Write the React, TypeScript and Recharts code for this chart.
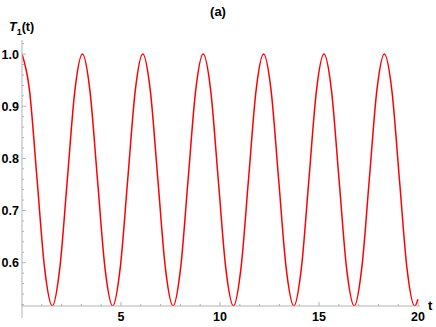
import { Line, LineChart, XAxis, YAxis } from "recharts";

// values (8 samples per oscillation)
const times = [
  0, 0.38, 0.76, 1.14, 1.53, 1.91, 2.29, 2.67, 3.05, 3.43, 3.81, 4.19, 4.58, 4.96, 5.34, 5.72,
  6.1, 6.48, 6.86, 7.24, 7.63, 8.01, 8.39, 8.77, 9.15, 9.53, 9.91, 10.29, 10.68, 11.06, 11.44,
  11.82, 12.2, 12.58, 12.96, 13.34, 13.73, 14.11, 14.49, 14.87, 15.25, 15.63, 16.01, 16.39,
  16.78, 17.16, 17.54, 17.92, 18.3, 18.68, 19.06, 19.44, 19.83, 20,
];
const t1Values = [
  1.0, 0.93, 0.76, 0.59, 0.517, 0.59, 0.76, 0.93,
  1.0, 0.93, 0.76, 0.59, 0.517, 0.59, 0.76, 0.93,
  1.0, 0.93, 0.76, 0.59, 0.517, 0.59, 0.76, 0.93,
  1.0, 0.93, 0.76, 0.59, 0.517, 0.59, 0.76, 0.93,
  1.0, 0.93, 0.76, 0.59, 0.517, 0.59, 0.76, 0.93,
  1.0, 0.93, 0.76, 0.59, 0.517, 0.59, 0.76, 0.93,
  1.0, 0.93, 0.76, 0.59, 0.517, 0.53,
];

const xTicks = [0, 1, 2, 3, 4, 5, 6, 7, 8, 9, 10, 11, 12, 13, 14, 15, 16, 17, 18, 19, 20];
const xLabels = [5, 10, 15, 20];
const yTicks = [
  0.52, 0.54, 0.56, 0.58, 0.6, 0.62, 0.64, 0.66, 0.68, 0.7, 0.72, 0.74, 0.76, 0.78, 0.8,
  0.82, 0.84, 0.86, 0.88, 0.9, 0.92, 0.94, 0.96, 0.98, 1.0, 1.02,
];
const yLabels = [0.6, 0.7, 0.8, 0.9, 1.0];

const data = times.map((t, i) => ({ t, v: t1Values[i] }));

const AXIS = "#b3b3b3";
const FONT = "'Liberation Sans', Arial, sans-serif";

function XTick({ x, y, payload }: any) {
  const major = xLabels.includes(payload.value);
  return (
    <g>
      <line x1={x} x2={x} y1={y} y2={y - (major ? 4 : 2)} stroke={AXIS} />
      {payload.value === 0 && <line x1={x} x2={x} y1={y} y2={y + 12} stroke={AXIS} />}
      {major && (
        <text x={x} y={y + 15} textAnchor="middle" fontFamily={FONT} fontWeight="bold" fontSize={12.5} fill="#000">
          {payload.value}
        </text>
      )}
    </g>
  );
}

function YTick({ x, y, payload }: any) {
  const major = yLabels.some((v) => Math.abs(v - payload.value) < 1e-6);
  return (
    <g>
      <line x1={x} x2={x + (major ? 4 : 2)} y1={y} y2={y} stroke={AXIS} />
      {major && (
        <text x={x - 3} y={y + 4.5} textAnchor="end" fontFamily={FONT} fontWeight="bold" fontSize={12.5} fill="#000">
          {payload.value.toFixed(1)}
        </text>
      )}
    </g>
  );
}

export default function App() {
  return (
    <div style={{ position: "absolute", left: 0, top: 0, width: 436, height: 327, background: "#fff", fontFamily: FONT }}>
      <LineChart width={436} height={327} data={data} margin={{ top: 40, right: 16, bottom: 0, left: 0 }}>
        <XAxis
          type="number"
          dataKey="t"
          height={21}
          domain={[0, 20.1]}
          ticks={xTicks}
          interval={0}
          allowDataOverflow
          tickSize={0}
          tickMargin={0}
          tickLine={false}
          axisLine={{ stroke: AXIS }}
          tick={<XTick />}
        />
        <YAxis
          type="number"
          width={22}
          domain={[0.517, 1.027]}
          ticks={yTicks}
          interval={0}
          allowDataOverflow
          tickSize={0}
          tickMargin={0}
          tickLine={false}
          axisLine={{ stroke: AXIS }}
          tick={<YTick />}
        />
        <Line
          type="monotone"
          dataKey="v"
          stroke="#ff0000"
          strokeWidth={1.5}
          dot={false}
          isAnimationActive={false}
        />
      </LineChart>
      <div style={{ position: "absolute", left: 0, width: 436, top: 4, textAlign: "center", fontWeight: "bold", fontSize: 13 }}>
        (a)
      </div>
      <div style={{ position: "absolute", left: 9, top: 20, fontWeight: "bold", fontSize: 12.5, whiteSpace: "nowrap" }}>
        <i>T</i>
        <sub style={{ fontSize: 9 }}>1</sub>(t)
      </div>
      <div style={{ position: "absolute", left: 428, top: 298, fontWeight: "bold", fontSize: 13 }}>t</div>
    </div>
  );
}
